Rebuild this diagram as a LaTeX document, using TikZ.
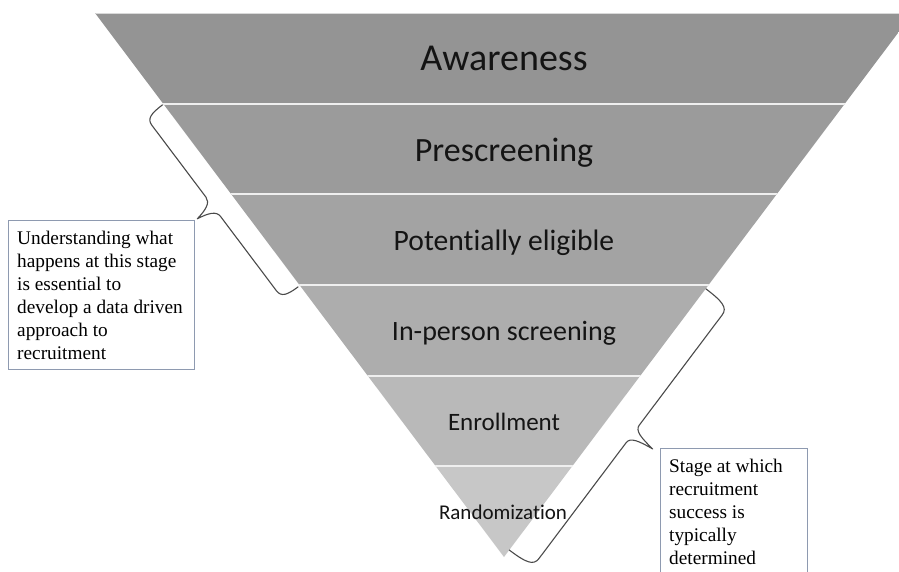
\documentclass[tikz,border=0pt]{standalone}
\usepackage{fontspec}
\setmainfont{Liberation Serif}
\newfontfamily\calib[Ligatures={NoCommon}]{Carlito}
\definecolor{bandA}{HTML}{949494}
\definecolor{bandB}{HTML}{9B9B9B}
\definecolor{bandC}{HTML}{A3A3A3}
\definecolor{bandD}{HTML}{ADADAD}
\definecolor{bandE}{HTML}{B9B9B9}
\definecolor{bandF}{HTML}{C7C7C7}
\definecolor{boxc}{HTML}{8E9AB0}
\definecolor{bracec}{HTML}{4A4A4A}
\definecolor{divc}{HTML}{EFEFEF}
\begin{document}
\begin{tikzpicture}[x=1pt,y=-1pt,
  stage/.style={anchor=base, inner sep=0, text=black!92},
  divider/.style={draw=divc, line width=1.8pt},
  notebox/.style={draw=boxc, fill=white, line width=1.1pt, anchor=north west, inner sep=0},
  notetext/.style={anchor=north west, inner sep=0, align=left,
     font=\fontsize{19.3}{23}\selectfont},
  bracepath/.style={draw=bracec, line width=1.1pt, line join=round}]
\useasboundingbox (0,0) rectangle (899,571);
\clip (0,0) rectangle (899,571);
\coordinate (tl) at (95,13);
\coordinate (tr) at (913,13);
\coordinate (tip) at (504,557);
\begin{scope}
  \clip (tl) -- (tr) -- (tip) -- cycle;
  \fill[bandA] (0,13) rectangle (920,103.7);
  \fill[bandB] (0,103.7) rectangle (920,194.3);
  \fill[bandC] (0,194.3) rectangle (920,285);
  \fill[bandD] (0,285) rectangle (920,375.7);
  \fill[bandE] (0,375.7) rectangle (920,466.3);
  \fill[bandF] (0,466.3) rectangle (920,560);
  \foreach \yy in {103.7,194.3,285,375.7,466.3}
    \draw[divider] (0,\yy) -- (920,\yy);
  \draw[draw=divc!80!gray, line width=0.8pt] (0,13.4) -- (920,13.4);
\end{scope}

\node[stage, font=\calib\fontsize{38}{40}\selectfont] (aw) at (504,70) {Awareness};
\node[stage, font=\calib\fontsize{34}{36}\selectfont] (pre) at (504,161) {Prescreening};
\node[stage, font=\calib\fontsize{29.6}{32}\selectfont] (pot) at (504,250) {Potentially eligible};
\node[stage, font=\calib\fontsize{28}{30}\selectfont] (inp) at (504,340) {In-person screening};
\node[stage, font=\calib\fontsize{25}{27}\selectfont] (enr) at (504,430) {Enrollment};
\node[stage, font=\calib\fontsize{21}{23}\selectfont] (ran) at (503,519) {Randomization};

\node[notebox, minimum width=186pt, minimum height=149pt] (lnote) at (8,220) {};
\node[notetext] (ltext) at (17,230.5)
  {Understanding what\\happens at this stage\\is essential to\\develop a data driven\\approach to\\recruitment};
\node[notebox, minimum width=147pt, minimum height=140pt] (rnote) at (660,448) {};
\node[notetext] (rtext) at (669,458.5)
  {Stage at which\\recruitment\\success is\\typically\\determined};

% left brace
\coordinate (lbA) at (162.7,104.7);
\coordinate (lbT) at (197.3,218.8);
\coordinate (lbB) at (298.3,286.7);
\draw[bracepath] (lbA) .. controls (150.7,113.7) and (147.1,118.9) .. (151.9,125.3)
  -- (206.0,197.2) .. controls (210.2,202.8) and (205.7,210.0) .. (lbT)
  .. controls (208.1,213.2) and (216.3,210.8) .. (220.5,216.4)
  -- (276.4,290.7) .. controls (281.2,297.1) and (287.2,295.1) .. (lbB);

% right brace
\coordinate (rbA) at (705.7,288.7);
\coordinate (rbT) at (652.6,448.9);
\coordinate (rbB) at (509.1,549.9);
\draw[bracepath] (rbA) .. controls (722.4,301.3) and (727.6,307.7) .. (722.2,314.9)
  -- (639.3,425.1) .. controls (635.1,430.7) and (641.1,437.7) .. (rbT)
  .. controls (638.7,440.9) and (630.3,437.1) .. (626.1,442.7)
  -- (538.9,558.6) .. controls (533.5,565.8) and (525.9,562.6) .. (rbB);
\end{tikzpicture}
\end{document}
